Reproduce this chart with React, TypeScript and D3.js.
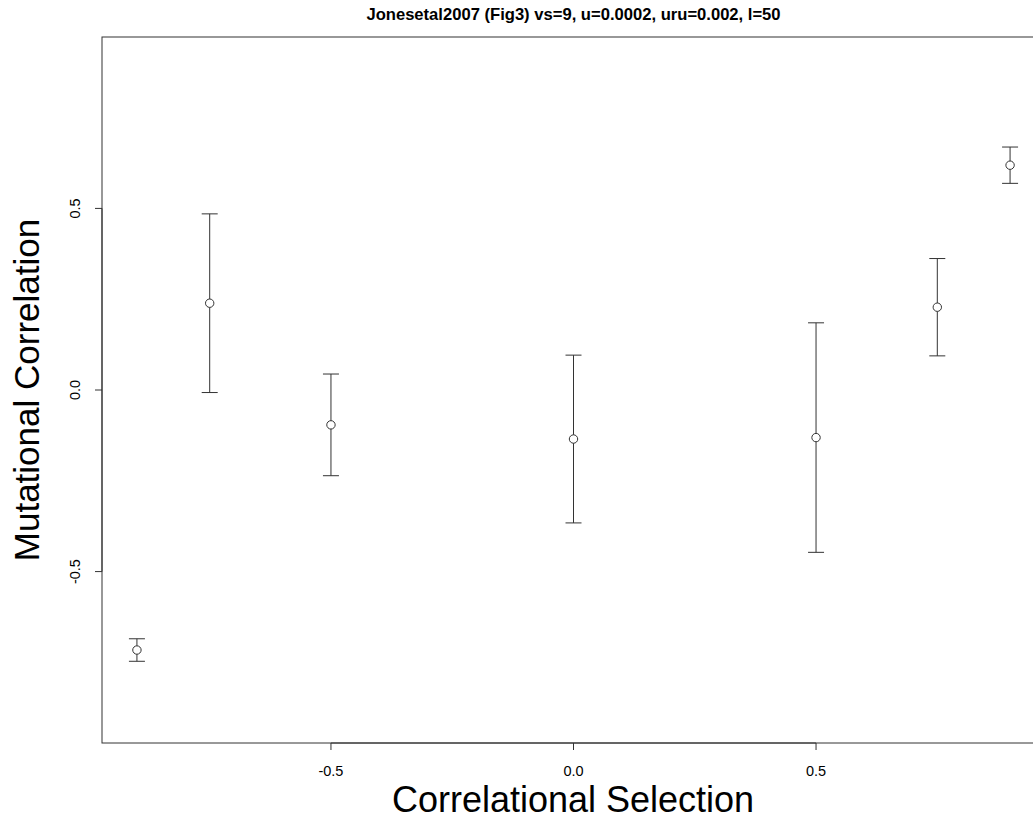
import React from "react";
import * as d3 from "d3";

const TITLE = "Jonesetal2007 (Fig3) vs=9, u=0.0002, uru=0.002, l=50";
const X_LABEL = "Correlational Selection";
const Y_LABEL = "Mutational Correlation";

const selection = [-0.9, -0.75, -0.5, 0, 0.5, 0.75, 0.9];
const meanCorr = [-0.716, 0.239, -0.096, -0.135, -0.131, 0.228, 0.619];
const errCorr = [0.031, 0.246, 0.14, 0.231, 0.316, 0.134, 0.05];

const xTicks = [-0.5, 0, 0.5];
const yTicks = [-0.5, 0, 0.5];

const W = 1033;
const H = 830;
const FONT = "'Liberation Sans', Arial, Helvetica, sans-serif";

export default function App() {
  const left = 102;
  const right = 1045;
  const top = 37;
  const bottom = 743;
  const lim = 0.9 * 1.08;
  const x = d3.scaleLinear().domain([-lim, lim]).range([left, right]);
  const y = d3.scaleLinear().domain([-lim, lim]).range([bottom, top]);
  const fmt = d3.format(".1f");
  const cap = 8;
  const stroke = "#333";

  return (
    <svg
      width={W}
      height={H}
      style={{ position: "absolute", left: 0, top: 0, background: "#fff" }}
      fontFamily={FONT}
    >
      <rect x={0} y={0} width={W} height={H} fill="#fff" />
      <text x={(left + right) / 2} y={20} textAnchor="middle" fontSize={16.6} fontWeight="bold" fill="#000">
        {TITLE}
      </text>
      {/* plot box */}
      <rect x={left} y={top} width={right - left} height={bottom - top} fill="none" stroke={stroke} strokeWidth={1} />
      {/* x axis */}
      <line x1={x(xTicks[0])} x2={x(xTicks[xTicks.length - 1])} y1={bottom} y2={bottom} stroke={stroke} />
      {xTicks.map((t) => (
        <g key={"xt" + t}>
          <line x1={x(t)} x2={x(t)} y1={bottom} y2={bottom + 7} stroke={stroke} />
          <text x={x(t)} y={776} textAnchor="middle" fontSize={14.5} fill="#000">
            {fmt(t).replace("−", "-")}
          </text>
        </g>
      ))}
      {/* y axis */}
      <line x1={left} x2={left} y1={y(yTicks[0])} y2={y(yTicks[yTicks.length - 1])} stroke={stroke} />
      {yTicks.map((t) => (
        <g key={"yt" + t}>
          <line x1={left - 7} x2={left} y1={y(t)} y2={y(t)} stroke={stroke} />
          <text
            transform={`translate(80,${y(t)}) rotate(-90)`}
            textAnchor="middle"
            fontSize={14.5}
            fill="#000"
          >
            {fmt(t).replace("−", "-")}
          </text>
        </g>
      ))}
      {/* axis titles */}
      <text x={(left + right) / 2 - 0.5} y={812} textAnchor="middle" fontSize={36} fill="#000">
        {X_LABEL}
      </text>
      <text transform={`translate(39,${(top + bottom) / 2}) rotate(-90)`} textAnchor="middle" fontSize={35} fill="#000">
        {Y_LABEL}
      </text>
      {/* error bars */}
      {selection.map((s, i) => {
        const cx = x(s);
        const y1 = y(meanCorr[i] + errCorr[i]);
        const y2 = y(meanCorr[i] - errCorr[i]);
        return (
          <g key={"e" + i} stroke={stroke} strokeWidth={1} fill="none">
            <line x1={cx} x2={cx} y1={y1} y2={y2} />
            <line x1={cx - cap} x2={cx + cap} y1={y1} y2={y1} />
            <line x1={cx - cap} x2={cx + cap} y1={y2} y2={y2} />
            <circle cx={cx} cy={y(meanCorr[i])} r={4.2} fill="#fff" />
          </g>
        );
      })}
    </svg>
  );
}
